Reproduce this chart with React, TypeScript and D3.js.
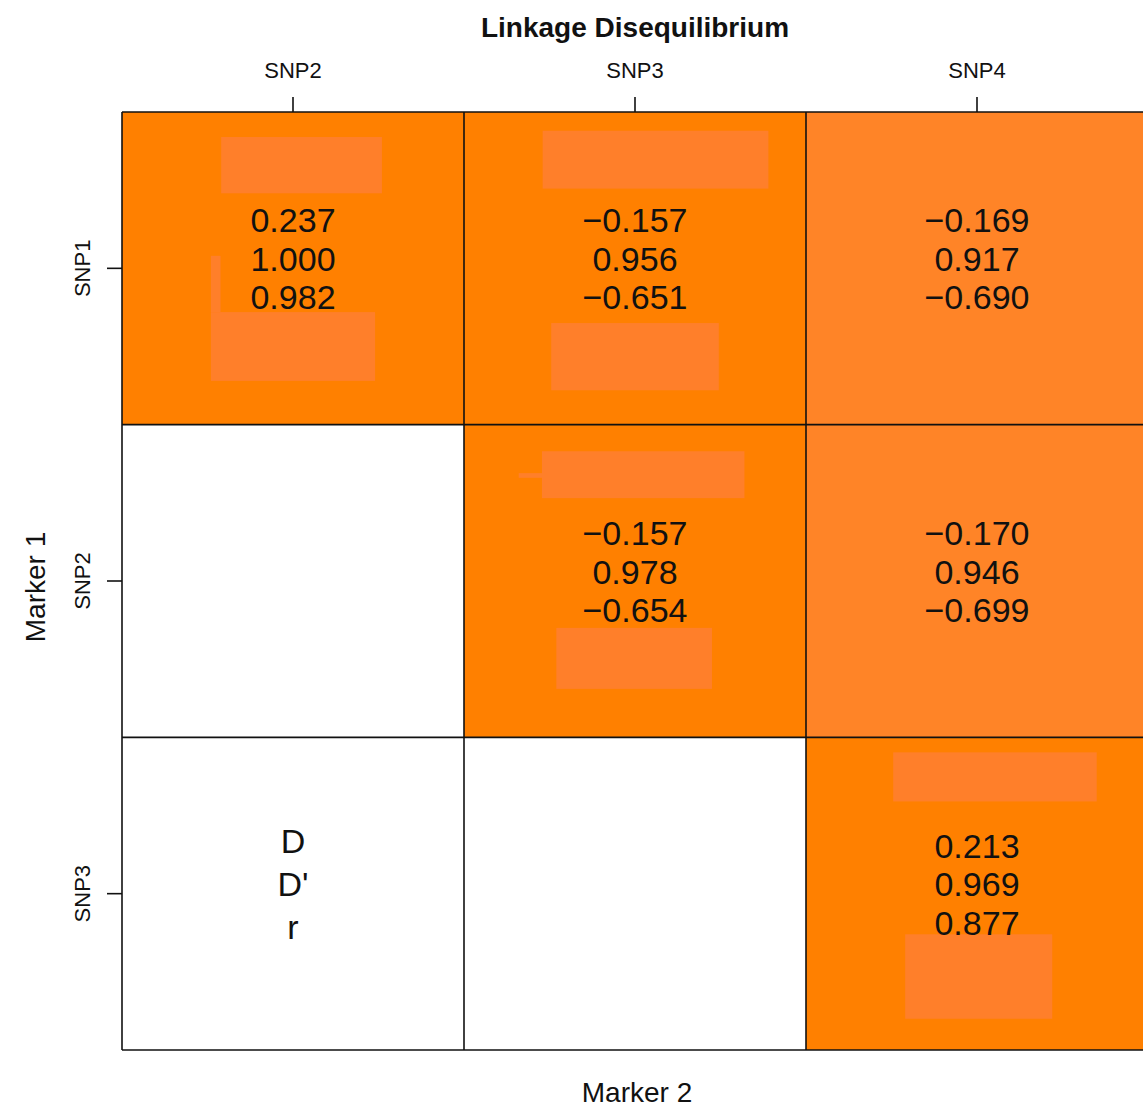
import React from "react";
import * as d3 from "d3";

const colMarkers = ["SNP2", "SNP3", "SNP4"];
const rowMarkers = ["SNP1", "SNP2", "SNP3"];

// [row, col] for each upper-triangle cell
const cellRow = [0, 0, 0, 1, 1, 2];
const cellCol = [0, 1, 2, 1, 2, 2];
const dValues = ["0.237", "\u22120.157", "\u22120.169", "\u22120.157", "\u22120.170", "0.213"];
const dPrimeValues = ["1.000", "0.956", "0.917", "0.978", "0.946", "0.969"];
const rValues = ["0.982", "\u22120.651", "\u22120.690", "\u22120.654", "\u22120.699", "0.877"];
const cellFills = ["#ff8000", "#ff8000", "#ff8427", "#ff8000", "#ff8427", "#ff8000"];

const legendLabels = ["D", "D'", "r"];

// redaction patches: [cellIndex, x0, y0, x1, y1] in fractions of the cell
const patchCell = [0, 0, 0, 1, 1, 3, 3, 3, 5, 5];
const patchBox = [
  [0.29, 0.08, 0.76, 0.26],
  [0.26, 0.64, 0.74, 0.86],
  [0.26, 0.46, 0.288, 0.64],
  [0.23, 0.06, 0.89, 0.245],
  [0.255, 0.675, 0.745, 0.89],
  [0.228, 0.085, 0.82, 0.235],
  [0.16, 0.155, 0.228, 0.17],
  [0.27, 0.65, 0.725, 0.845],
  [0.255, 0.048, 0.85, 0.205],
  [0.29, 0.63, 0.72, 0.90],
];

const W = 1143;
const H = 1109;
const left = 122;
const top = 112;
const cellW = 342;
const bottom = 1050;

export default function App() {
  const x = d3.scaleBand().domain(colMarkers).range([left, left + cellW * 3]).padding(0);
  const y = d3.scaleBand().domain(rowMarkers).range([top, bottom]).padding(0);
  const bw = x.bandwidth();
  const bh = y.bandwidth();
  const font = "'Liberation Sans', Arial, Helvetica, sans-serif";

  return (
    <svg
      width={W}
      height={H}
      style={{ position: "absolute", left: 0, top: 0, background: "#fff" }}
      fontFamily={font}
    >
      <rect x={0} y={0} width={W} height={H} fill="#fff" />
      {/* cells */}
      {cellRow.map((r, i) => (
        <rect
          key={"c" + i}
          x={x(colMarkers[cellCol[i]])}
          y={y(rowMarkers[r])}
          width={bw}
          height={bh}
          fill={cellFills[i]}
        />
      ))}
      {/* patches */}
      {patchCell.map((ci, i) => {
        const cx0 = x(colMarkers[cellCol[ci]])!;
        const cy0 = y(rowMarkers[cellRow[ci]])!;
        const b = patchBox[i];
        return (
          <rect
            key={"p" + i}
            x={cx0 + b[0] * bw}
            y={cy0 + b[1] * bh}
            width={(b[2] - b[0]) * bw}
            height={(b[3] - b[1]) * bh}
            fill="#ff7f2a"
          />
        );
      })}
      {/* grid lines */}
      {d3.range(4).map((i) => (
        <line
          key={"v" + i}
          x1={left + i * bw}
          x2={left + i * bw}
          y1={top}
          y2={bottom}
          stroke="#111"
          strokeWidth={1.6}
        />
      ))}
      {d3.range(4).map((i) => (
        <line
          key={"h" + i}
          x1={left}
          x2={left + 3 * bw}
          y1={top + i * bh}
          y2={top + i * bh}
          stroke="#111"
          strokeWidth={1.6}
        />
      ))}
      {/* cell texts */}
      {cellRow.map((r, i) => {
        const cx = x(colMarkers[cellCol[i]])! + bw / 2;
        const cy = y(rowMarkers[r])! + bh / 2;
        const lines = [dValues[i], dPrimeValues[i], rValues[i]];
        return lines.map((t, k) => (
          <text
            key={"t" + i + "_" + k}
            x={cx}
            y={cy - 36 + k * 38.5}
            textAnchor="middle"
            fontSize={34}
            fill="#111"
          >
            {t}
          </text>
        ));
      })}
      {/* legend cell */}
      {legendLabels.map((t, k) => (
        <text
          key={"l" + k}
          x={x(colMarkers[0])! + bw / 2}
          y={y(rowMarkers[2])! + bh / 2 - 41 + k * 43}
          textAnchor="middle"
          fontSize={34}
          fill="#111"
        >
          {t}
        </text>
      ))}
      {/* top axis */}
      {colMarkers.map((m) => (
        <g key={"xa" + m}>
          <line
            x1={x(m)! + bw / 2}
            x2={x(m)! + bw / 2}
            y1={top - 15}
            y2={top}
            stroke="#111"
            strokeWidth={1.6}
          />
          <text x={x(m)! + bw / 2} y={78} textAnchor="middle" fontSize={22} fill="#111">
            {m}
          </text>
        </g>
      ))}
      {/* left axis */}
      {rowMarkers.map((m) => (
        <g key={"ya" + m}>
          <line
            x1={left - 15}
            x2={left}
            y1={y(m)! + bh / 2}
            y2={y(m)! + bh / 2}
            stroke="#111"
            strokeWidth={1.6}
          />
          <text
            transform={`translate(90,${y(m)! + bh / 2}) rotate(-90)`}
            textAnchor="middle"
            fontSize={22}
            fill="#111"
          >
            {m}
          </text>
        </g>
      ))}
      {/* titles */}
      <text x={635} y={37} textAnchor="middle" fontSize={28} fontWeight="bold" fill="#111">
        Linkage Disequilibrium
      </text>
      <text x={637} y={1102} textAnchor="middle" fontSize={28} fill="#111">
        Marker 2
      </text>
      <text
        transform={`translate(45,587) rotate(-90)`}
        textAnchor="middle"
        fontSize={28}
        fill="#111"
      >
        Marker 1
      </text>
    </svg>
  );
}
